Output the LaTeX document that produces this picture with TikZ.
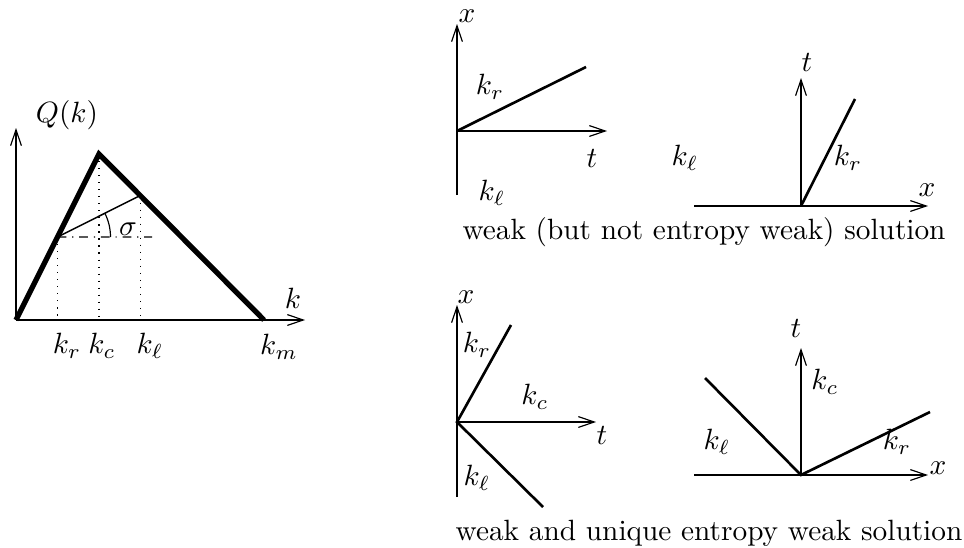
\documentclass[tikz,border=0pt]{standalone}
\usepackage{amsmath,amssymb}
\usepackage{tikz}
\usetikzlibrary{arrows.meta,calc}

\tikzset{
  axis/.style={line width=0.4pt, -{Straight Barb[length=1.9mm,width=1.3mm]}},
  wave/.style={line width=0.9pt},
  flux/.style={line width=1.8pt, line join=miter},
  guide/.style={line width=0.4pt, dotted},
}

\begin{document}
\begin{tikzpicture}[x=0.012cm, y=0.012cm]
\useasboundingbox (0,0) rectangle (964,547);
% fundamental diagram
\coordinate (O) at (16,227);
\coordinate (Qtop) at (16,419);
\coordinate (Kend) at (305,227);
\coordinate (P) at (99,393);
\coordinate (M) at (264,227);
\coordinate (A) at ($(O)!.5!(P)$);
\coordinate (B) at ($(P)!.25!(M)$);
\coordinate (Aend) at (152,310);
\draw[axis] (O) -- (Qtop);
\draw[axis] (O) -- (Kend);
\node (Qlab) at (67,432) {$Q(k)$};
\node (klab) at (293,249) {$k$};
\draw[flux] (O) -- (P) -- (M);
\draw[line width=0.5pt] (A) -- (B);
\draw[line width=0.4pt, dash dot] (A) -- (Aend);
\draw[guide] (A) -- (A |- O);
\draw[guide] (P) -- (P |- O);
\draw[guide] (B) -- (B |- O);
\draw[line width=0.4pt] ($(A)+(53,0)$) arc[start angle=0, end angle=26.6, radius=53];
\node (sig) at (128,318) {$\sigma$};
\node (kr0) at (67,201) {$k_r$};
\node (kc0) at (102,201) {$k_c$};
\node (kl0) at (150,201) {$k_\ell$};
\node (km0) at (279,200) {$k_m$};
% weak solution, x-t plane
\coordinate (O1) at (457,416);
\coordinate (O1b) at (457,352);
\coordinate (O1x) at (457,523);
\coordinate (O1t) at (607,416);
\coordinate (S1) at (586,480);
\draw[axis] (O1b) -- (O1x);
\draw[axis] (O1) -- (O1t);
\draw[wave] (O1) -- (S1);
\node (x1) at (467,531) {$x$};
\node (t1) at (592,389) {$t$};
\node (kr1) at (490,460) {$k_r$};
\node (kl1) at (492,354) {$k_\ell$};
% weak solution, t-x plane
\coordinate (O2) at (801,341);
\coordinate (O2a) at (694,341);
\coordinate (O2x) at (928,341);
\coordinate (O2t) at (801,469);
\coordinate (S2) at (855,448);
\draw[axis] (O2a) -- (O2x);
\draw[axis] (O2) -- (O2t);
\draw[wave] (O2) -- (S2);
\node (x2) at (927,357) {$x$};
\node (t2) at (807,485) {$t$};
\node (kr2) at (848,389) {$k_r$};
\node (kl2) at (685,389) {$k_\ell$};
\node (cap1) at (704,315) {weak (but not entropy weak) solution};
% entropy solution, x-t plane
\coordinate (O3) at (457,125);
\coordinate (O3b) at (457,50);
\coordinate (O3x) at (457,242);
\coordinate (O3t) at (596,125);
\coordinate (R3) at (511,222);
\coordinate (L3) at (543,40);
\draw[axis] (O3b) -- (O3x);
\draw[axis] (O3) -- (O3t);
\draw[wave] (R3) -- (O3) -- (L3);
\node (x3) at (466,250) {$x$};
\node (t3) at (602,112) {$t$};
\node (kr3) at (477,202) {$k_r$};
\node (kc3) at (535,150) {$k_c$};
\node (kl3) at (477,69) {$k_\ell$};
% entropy solution, t-x plane
\coordinate (O4) at (801,72);
\coordinate (O4a) at (694,72);
\coordinate (O4x) at (928,72);
\coordinate (O4t) at (801,199);
\coordinate (L4) at (705,169);
\coordinate (R4) at (930,135);
\draw[axis] (O4a) -- (O4x);
\draw[axis] (O4) -- (O4t);
\draw[wave] (L4) -- (O4) -- (R4);
\node (x4) at (938,79) {$x$};
\node (t4) at (796,219) {$t$};
\node (kc4) at (825,165) {$k_c$};
\node (kl4) at (717,105) {$k_\ell$};
\node (kr4) at (897,105) {$k_r$};
\node (cap2) at (709,14) {weak and unique entropy weak solution};
\end{tikzpicture}
\end{document}
